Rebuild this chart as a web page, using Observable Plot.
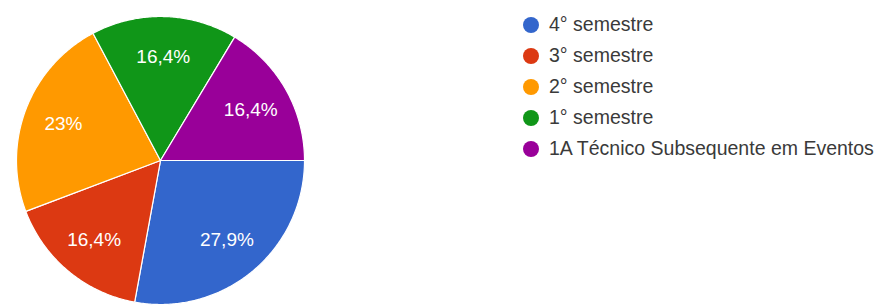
<!DOCTYPE html>
<html>
<head>
<meta charset="utf-8">
<script src="https://cdn.jsdelivr.net/npm/d3@7"></script>
<script src="https://cdn.jsdelivr.net/npm/@observablehq/plot@0.6"></script>
<style>
  html, body { margin: 0; padding: 0; background: #fff; }
  #wrap { position: relative; width: 879px; height: 307px; }
  #legend { position: absolute; left: 523px; top: 9px; font-family: "Liberation Sans", Arial, sans-serif; font-size: 19.5px; color: #3a3a3a; white-space: nowrap; }
  .row { display: flex; align-items: center; height: 31.1px; }
  .sw { width: 16px; height: 16px; border-radius: 50%; margin-right: 10px; flex: none; }
</style>
</head>
<body>
<div id="wrap"><div id="chart"></div><div id="legend"></div></div>
<script>
const categories = ["4° semestre", "3° semestre", "2° semestre", "1° semestre", "1A Técnico Subsequente em Eventos"];
const values = [27.9, 16.4, 23, 16.4, 16.4];
const labels = ["27,9%", "16,4%", "23%", "16,4%", "16,4%"];
const colors = ["#3366cc", "#dc3912", "#ff9900", "#109618", "#990099"];

// pie layout: start at 3 o'clock, clockwise (angles measured clockwise from 12 o'clock)
const total = d3.sum(values);
let acc = Math.PI / 2;
const slices = categories.map((c, i) => {
  const a0 = acc, a1 = acc + values[i] / total * 2 * Math.PI;
  acc = a1;
  return {cat: c, a0, a1, label: labels[i], color: colors[i]};
});

const pts = [];
for (const s of slices) {
  pts.push({cat: s.cat, x: 0, y: 0});
  const n = Math.max(2, Math.ceil((s.a1 - s.a0) / 0.01));
  for (let k = 0; k <= n; k++) {
    const a = s.a0 + (s.a1 - s.a0) * k / n;
    pts.push({cat: s.cat, x: Math.sin(a), y: Math.cos(a)});
  }
  pts.push({cat: s.cat, x: 0, y: 0});
}
const labelR = 0.72;
const lab = slices.map(s => {
  const m = (s.a0 + s.a1) / 2;
  return {label: s.label, x: labelR * Math.sin(m), y: labelR * Math.cos(m)};
});

const chart = Plot.plot({
  width: 879,
  height: 307,
  margin: 0,
  x: {domain: [-1, 1], range: [16, 304], axis: null},
  y: {domain: [-1, 1], range: [304, 16], axis: null},
  color: {domain: categories, range: colors},
  style: {background: "transparent"},
  marks: [
    Plot.line(pts, {x: "x", y: "y", z: "cat", fill: "cat", stroke: "white", strokeWidth: 1.2, strokeLinejoin: "round"}),
    Plot.text(lab, {x: "x", y: "y", text: "label", fill: "white", fontSize: 19, fontFamily: "Liberation Sans, Arial, sans-serif"})
  ]
});
document.getElementById("chart").appendChild(chart);

const leg = document.getElementById("legend");
categories.forEach((c, i) => {
  const r = document.createElement("div");
  r.className = "row";
  const sw = document.createElement("span");
  sw.className = "sw";
  sw.style.background = colors[i];
  const t = document.createElement("span");
  t.textContent = c;
  r.appendChild(sw); r.appendChild(t);
  leg.appendChild(r);
});
</script>
</body>
</html>
